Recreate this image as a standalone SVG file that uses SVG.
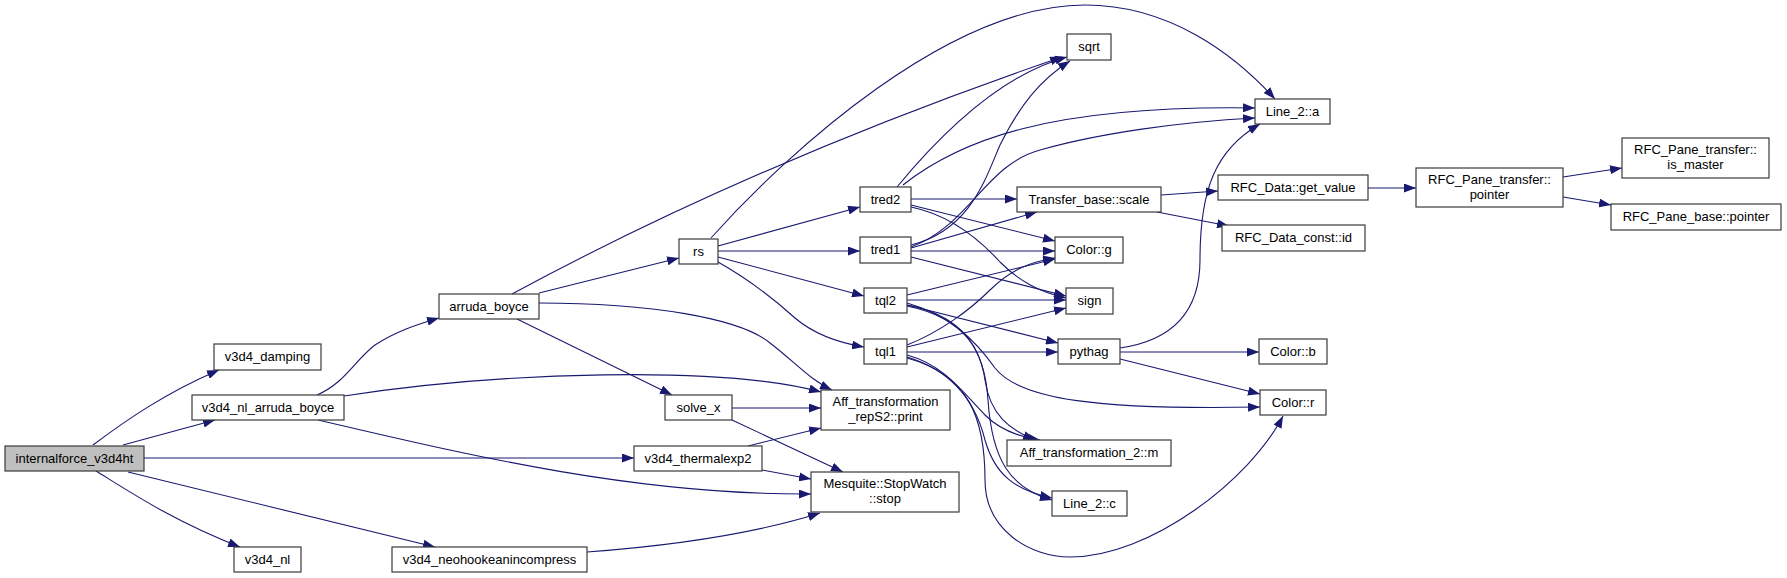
<svg xmlns="http://www.w3.org/2000/svg" width="1787" height="578" viewBox="0 0 1787 578">
<style>
.n rect{fill:#ffffff;stroke:#3a3a3a;stroke-width:1.2}
.n text{font-family:"Liberation Sans",Arial,sans-serif;font-size:13px;fill:#000;text-anchor:middle}
#e path{fill:none;stroke:#191970;stroke-width:1.1;marker-end:url(#ah)}
</style>
<defs>
<marker id="ah" markerWidth="12" markerHeight="9" refX="12" refY="4.5" orient="auto" markerUnits="userSpaceOnUse">
<path d="M0,0 L12,4.5 L0,9 z" fill="#191970"/>
</marker>
</defs>
<rect width="1787" height="578" fill="#ffffff"/>
<g id="e">
<path d="M93,445 C125,421 165,393 219,370"/>
<path d="M123,445 L215,420"/>
<path d="M144,458 L634,458"/>
<path d="M96,471 C130,492 175,522 240,547"/>
<path d="M128,472 L435,547"/>
<path d="M317,395 C345,383 355,360 375,345 C395,332 415,325 439,318"/>
<path d="M344,396 C500,372 720,365 821,392"/>
<path d="M318,420 C480,458 640,495 811,494"/>
<path d="M512,294 C695,195 878,120 1062,57"/>
<path d="M539,293 L679,258"/>
<path d="M539,303 C650,303 740,318 770,343 C795,362 810,380 832,390"/>
<path d="M517,319 L672,395"/>
<path d="M711,238 C790,150 950,5 1085,5 C1170,5 1235,55 1275,99"/>
<path d="M718,246 L860,207"/>
<path d="M718,251 L860,251"/>
<path d="M718,257 L864,296"/>
<path d="M718,262 C750,280 775,300 795,318 C815,335 840,343 864,347"/>
<path d="M732,408 L821,408"/>
<path d="M732,420 L843,472"/>
<path d="M748,446 L821,428"/>
<path d="M762,470 L811,479"/>
<path d="M587,552 C680,545 760,532 820,513"/>
<path d="M897,187 C940,135 1000,75 1067,57"/>
<path d="M903,185 C960,140 1050,105 1255,108"/>
<path d="M911,199 L1017,199"/>
<path d="M911,205 L1055,241"/>
<path d="M911,207 C950,215 980,240 1000,262 C1020,282 1040,292 1066,298"/>
<path d="M911,245 C970,230 985,180 1000,145 C1020,105 1040,80 1070,61"/>
<path d="M911,247 C970,225 985,165 1040,150 C1100,133 1180,122 1255,118"/>
<path d="M911,248 L1037,212"/>
<path d="M911,251 L1055,251"/>
<path d="M911,257 L1066,296"/>
<path d="M907,295 L1055,259"/>
<path d="M907,300 L1066,300"/>
<path d="M907,305 L1058,343"/>
<path d="M907,303 C950,315 975,340 995,368 C1020,400 1100,410 1260,407"/>
<path d="M907,305 C960,315 980,345 985,380 C990,415 1010,430 1035,440"/>
<path d="M907,306 C965,318 985,350 988,400 C992,460 1010,488 1052,500"/>
<path d="M907,345 C940,332 970,310 990,290 C1010,270 1030,262 1055,258"/>
<path d="M907,347 L1066,308"/>
<path d="M907,352 L1058,352"/>
<path d="M907,355 C945,365 965,395 985,415 C1000,430 1020,437 1040,440"/>
<path d="M907,357 C950,370 975,400 985,440 C995,475 1015,490 1052,498"/>
<path d="M907,358 C970,375 985,420 985,480 C985,530 1030,557 1070,557 C1150,557 1250,480 1283,416"/>
<path d="M1161,195 L1218,191"/>
<path d="M1157,212 L1229,226"/>
<path d="M1368,188 L1416,188"/>
<path d="M1563,177 L1622,168"/>
<path d="M1563,197 L1611,205"/>
<path d="M1120,348 C1175,340 1200,310 1200,260 C1200,190 1215,150 1260,124"/>
<path d="M1120,352 L1259,352"/>
<path d="M1120,359 L1260,394"/>
</g>
<g id="n_internalforce" class="n"><rect x="5" y="446" width="139" height="25" style="fill:#bfbfbf"/><text x="74.5" y="463">internalforce_v3d4ht</text></g>
<g id="n_damping" class="n"><rect x="214" y="344" width="107" height="26"/><text x="267.5" y="361">v3d4_damping</text></g>
<g id="n_nl_arruda" class="n"><rect x="192" y="395" width="152" height="25"/><text x="268" y="412">v3d4_nl_arruda_boyce</text></g>
<g id="n_nl" class="n"><rect x="234" y="547" width="67" height="25"/><text x="267.5" y="564">v3d4_nl</text></g>
<g id="n_neo" class="n"><rect x="392" y="547" width="195" height="25"/><text x="489.5" y="564">v3d4_neohookeanincompress</text></g>
<g id="n_arruda" class="n"><rect x="439" y="294" width="100" height="25"/><text x="489" y="311">arruda_boyce</text></g>
<g id="n_solve" class="n"><rect x="665" y="395" width="67" height="25"/><text x="698.5" y="412">solve_x</text></g>
<g id="n_thermal" class="n"><rect x="634" y="446" width="128" height="25"/><text x="698" y="463">v3d4_thermalexp2</text></g>
<g id="n_print" class="n"><rect x="821" y="390" width="129" height="40"/><text x="885.5" y="406">Aff_transformation</text><text x="885.5" y="421">_repS2::print</text></g>
<g id="n_stop" class="n"><rect x="811" y="472" width="148" height="40"/><text x="885" y="488">Mesquite::StopWatch</text><text x="885" y="503">::stop</text></g>
<g id="n_rs" class="n"><rect x="679" y="239" width="39" height="25"/><text x="698.5" y="256">rs</text></g>
<g id="n_tred2" class="n"><rect x="860" y="187" width="51" height="25"/><text x="885.5" y="204">tred2</text></g>
<g id="n_tred1" class="n"><rect x="860" y="237" width="51" height="26"/><text x="885.5" y="254">tred1</text></g>
<g id="n_tql2" class="n"><rect x="864" y="288" width="43" height="25"/><text x="885.5" y="305">tql2</text></g>
<g id="n_tql1" class="n"><rect x="864" y="339" width="43" height="25"/><text x="885.5" y="356">tql1</text></g>
<g id="n_sqrt" class="n"><rect x="1067" y="34" width="44" height="26"/><text x="1089" y="51">sqrt</text></g>
<g id="n_line_a" class="n"><rect x="1255" y="99" width="75" height="25"/><text x="1292.5" y="116">Line_2::a</text></g>
<g id="n_scale" class="n"><rect x="1017" y="187" width="144" height="25"/><text x="1089" y="204">Transfer_base::scale</text></g>
<g id="n_color_g" class="n"><rect x="1055" y="237" width="68" height="26"/><text x="1089" y="254">Color::g</text></g>
<g id="n_sign" class="n"><rect x="1066" y="288" width="47" height="26"/><text x="1089.5" y="305">sign</text></g>
<g id="n_pythag" class="n"><rect x="1058" y="339" width="62" height="25"/><text x="1089" y="356">pythag</text></g>
<g id="n_aff_m" class="n"><rect x="1007" y="440" width="164" height="26"/><text x="1089" y="457">Aff_transformation_2::m</text></g>
<g id="n_line_c" class="n"><rect x="1052" y="491" width="75" height="25"/><text x="1089.5" y="508">Line_2::c</text></g>
<g id="n_color_b" class="n"><rect x="1259" y="339" width="68" height="25"/><text x="1293" y="356">Color::b</text></g>
<g id="n_color_r" class="n"><rect x="1260" y="390" width="66" height="25"/><text x="1293" y="407">Color::r</text></g>
<g id="n_get_value" class="n"><rect x="1218" y="175" width="150" height="25"/><text x="1293" y="192">RFC_Data::get_value</text></g>
<g id="n_const_id" class="n"><rect x="1222" y="225" width="143" height="26"/><text x="1293.5" y="242">RFC_Data_const::id</text></g>
<g id="n_pt_pointer" class="n"><rect x="1416" y="168" width="147" height="39"/><text x="1489.5" y="184">RFC_Pane_transfer::</text><text x="1489.5" y="199">pointer</text></g>
<g id="n_is_master" class="n"><rect x="1622" y="138" width="147" height="40"/><text x="1695.5" y="154">RFC_Pane_transfer::</text><text x="1695.5" y="169">is_master</text></g>
<g id="n_base_pointer" class="n"><rect x="1611" y="204" width="170" height="26"/><text x="1696" y="221">RFC_Pane_base::pointer</text></g>
</svg>
